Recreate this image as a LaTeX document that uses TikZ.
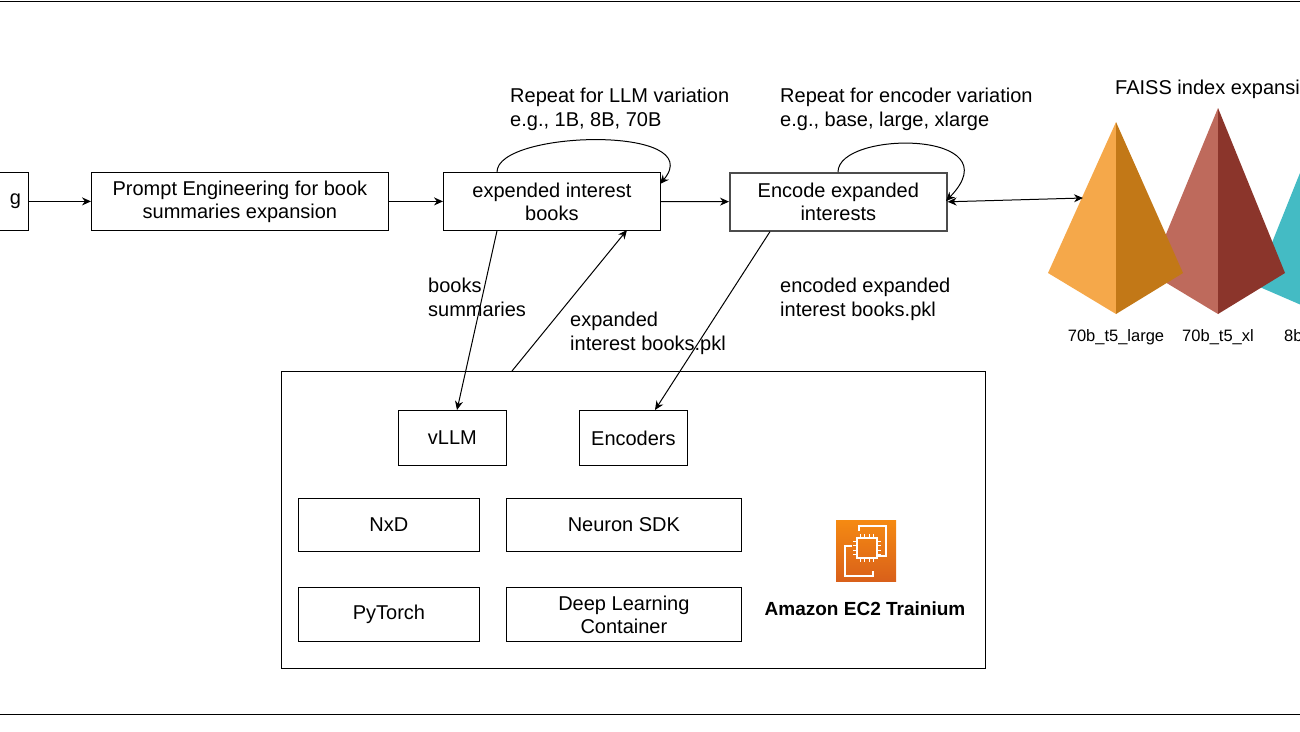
\documentclass[tikz,border=0pt]{standalone}
\usepackage{fontspec}
\setmainfont{Liberation Sans}
\usetikzlibrary{arrows.meta}
\definecolor{orL}{HTML}{F5A84A}
\definecolor{orR}{HTML}{C27817}
\definecolor{rdL}{HTML}{BE6A5C}
\definecolor{rdR}{HTML}{8B352B}
\definecolor{tl}{HTML}{44BBC4}
\definecolor{icT}{HTML}{F58A12}
\definecolor{icB}{HTML}{D9601A}
\tikzset{
  box/.style={draw, thick, align=center, inner sep=0pt, font=\fontsize{20}{23}\selectfont},
  lbl/.style={align=left, anchor=north west, inner sep=0pt, font=\fontsize{20}{24}\selectfont},
  ixl/.style={font=\fontsize{16.5}{18}\selectfont},
  arr/.style={-{Stealth[length=9pt,width=8pt]}, line width=1pt},
}
\begin{document}
\begin{tikzpicture}[x=1pt,y=-1pt]
\useasboundingbox (0,0) rectangle (1300,731);
\clip (0,0) rectangle (1300,731);
\draw[thick] (0,1) -- (1300,1);
\draw[thick] (0,714) -- (1300,714);

% pipeline
\node[box, minimum width=38pt, minimum height=58pt, anchor=north west] (load) at (-10,172) {\hspace*{12pt}g};
\node[box, minimum width=297pt, minimum height=58pt, anchor=north west] (prompt) at (91,172) {Prompt Engineering for book\\summaries expansion};
\node[box, minimum width=217pt, minimum height=58pt, anchor=north west] (books) at (443,172) {expended interest\\books};
\node[box, draw=black!70, line width=1.6pt, minimum width=217pt, minimum height=58pt, anchor=north west] (encode) at (729,172) {Encode expanded\\interests};

% EC2 container
\node[draw, thick, minimum width=704pt, minimum height=297pt, anchor=north west] (ec2) at (281,371) {};
\node[box, minimum width=108pt, minimum height=55pt, anchor=north west] (vllm) at (398,410) {vLLM};
\node[box, minimum width=108pt, minimum height=55pt, anchor=north west] (enc) at (579,410) {Encoders};
\node[box, minimum width=181pt, minimum height=53pt, anchor=north west] (nxd) at (298,498) {NxD};
\node[box, minimum width=235pt, minimum height=53pt, anchor=north west] (sdk) at (506,498) {Neuron SDK};
\node[box, minimum width=181pt, minimum height=54pt, anchor=north west] (torch) at (298,587) {PyTorch};
\node[box, minimum width=235pt, minimum height=54pt, anchor=north west] (dlc) at (506,587) {Deep Learning\\Container};

% Trainium icon
\shade[top color=icT, bottom color=icB] (836,520) rectangle (896,581);
\draw[white, line width=1.1pt] (859,531) -- (859,526) -- (886,526) -- (886,556) -- (878,556)
  (873,571) -- (873,576) -- (845,576) -- (845,546) -- (852,546);
\draw[white, line width=1.3pt] (857,538) rectangle (877,558);
\foreach \t in {0,1,2,3} {
  \draw[white, line width=0.8pt] (860+4.5*\t,538) -- ++(0,-4) (860+4.5*\t,558) -- ++(0,4)
    (857,541+4.5*\t) -- ++(-4,0) (877,541+4.5*\t) -- ++(4,0);
}
\node[font=\bfseries\fontsize{19}{22}\selectfont, inner sep=0pt] (trn) at (865,609) {Amazon EC2 Trainium};

% FAISS indexes
\fill[tl] (1322,118) -- (1255,285) -- (1322,314) -- cycle;
\fill[rdL] (1218,108) -- (1150,273) -- (1218,314) -- cycle;
\fill[rdR] (1218,108) -- (1285,273) -- (1218,314) -- cycle;
\fill[orL] (1116,122) -- (1048,273) -- (1116,314) -- cycle;
\fill[orR] (1116,122) -- (1183,273) -- (1116,314) -- cycle;
\coordinate (faiss) at (1083,198);
\node[ixl] (ix1) at (1116,337) {70b\_t5\_large};
\node[ixl] (ix2) at (1218,337) {70b\_t5\_xl};
\node[ixl, anchor=west, inner sep=0pt] (ix3) at (1284,337) {8b\_t5};
\node[lbl] (faisslbl) at (1115,80) {FAISS index expansion};

% connectors
\draw[arr] (load) -- (prompt);
\draw[arr] (prompt) -- (books);
\draw[arr] (books) -- (encode);
\draw[{Stealth[length=9pt,width=8pt]}-{Stealth[length=9pt,width=8pt]}, line width=1pt] (encode.east) -- (faiss);
\draw[arr] (497,172) .. controls (497,130) and (710,125) .. (660,184);
\draw[arr] (838,172) .. controls (838,130) and (1015,130) .. (946,201);
\draw[arr] (books.south west) ++(54,0) -- (vllm.north west -| 457,410);
\draw[arr] (ec2.north west) ++(231,0) -- (627,230);
\draw[arr] (encode.south west) ++(41,0) -- (enc.north west -| 655,410);

% labels
\node[lbl] (repllm) at (510,88) {Repeat for LLM variation\\e.g., 1B, 8B, 70B};
\node[lbl] (repenc) at (780,88) {Repeat for encoder variation\\e.g., base, large, xlarge};
\node[lbl] (bsum) at (428,278) {books\\summaries};
\node[lbl] (epkl) at (570,312) {expanded\\interest books.pkl};
\node[lbl] (encpkl) at (780,278) {encoded expanded\\interest books.pkl};
\end{tikzpicture}
\end{document}
